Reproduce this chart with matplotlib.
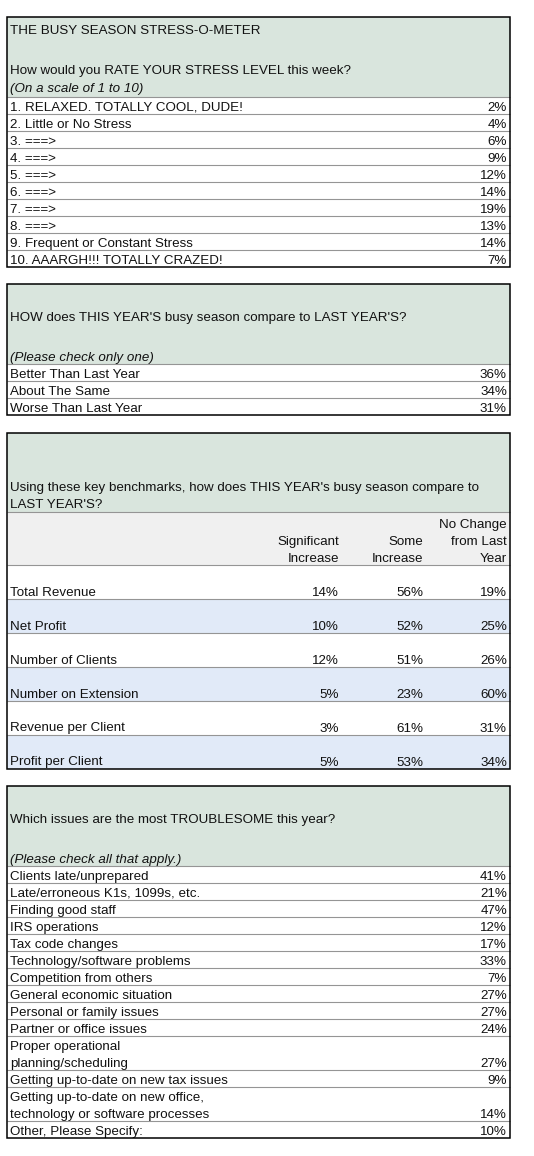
import matplotlib
matplotlib.use("Agg")
import matplotlib.pyplot as plt
from matplotlib.patches import Rectangle

# ---------------- data ----------------
stress_title = "THE BUSY SEASON STRESS-O-METER"
stress_question = "How would you RATE YOUR STRESS LEVEL this week?"
stress_note = "(On a scale of 1 to 10)"
stress_labels = ["1. RELAXED. TOTALLY COOL, DUDE!", "2. Little or No Stress", "3. ===>", "4. ===>",
                 "5. ===>", "6. ===>", "7. ===>", "8. ===>", "9. Frequent or Constant Stress",
                 "10. AAARGH!!! TOTALLY CRAZED!"]
stress_values = [2, 4, 6, 9, 12, 14, 19, 13, 14, 7]

compare_question = "HOW does THIS YEAR'S busy season compare to LAST YEAR'S?"
compare_note = "(Please check only one)"
compare_labels = ["Better Than Last Year", "About The Same", "Worse Than Last Year"]
compare_values = [36, 34, 31]

bench_question = ["Using these key benchmarks, how does THIS YEAR's busy season compare to",
                  "LAST YEAR'S?"]
bench_columns = ["Significant\nIncrease", "Some\nIncrease", "No Change\nfrom Last\nYear"]
bench_rows = ["Total Revenue", "Net Profit", "Number of Clients", "Number on Extension",
              "Revenue per Client", "Profit per Client"]
bench_significant = [14, 10, 12, 5, 3, 5]
bench_some = [56, 52, 51, 23, 61, 53]
bench_nochange = [19, 25, 26, 60, 31, 34]

issues_question = "Which issues are the most TROUBLESOME this year?"
issues_note = "(Please check all that apply.)"
issue_labels = ["Clients late/unprepared", "Late/erroneous K1s, 1099s, etc.", "Finding good staff",
                "IRS operations", "Tax code changes", "Technology/software problems",
                "Competition from others", "General economic situation", "Personal or family issues",
                "Partner or office issues", "Proper operational\nplanning/scheduling",
                "Getting up-to-date on new tax issues",
                "Getting up-to-date on new office,\ntechnology or software processes",
                "Other, Please Specify:"]
issue_values = [41, 21, 47, 12, 17, 33, 7, 27, 27, 24, 27, 9, 14, 10]

# ---------------- style ----------------
FONT = "Liberation Sans"
FS = 9.6
GREEN = "#D9E5DD"
GREY_BG = "#F0F0F0"
BLUE = "#E1EAF8"
GRID = "#959595"
L, R = 7, 510
TX, RX = 10, 507
ROW = 17
PX = 0.8

fig = plt.figure(figsize=(5.34, 11.56), dpi=100)
ax = fig.add_axes([0, 0, 1, 1])
ax.set_xlim(0, 534)
ax.set_ylim(1156, 0)
ax.axis("off")


def txt(x, y, s, ha="left", style="normal"):
    ax.text(x, y, s, ha=ha, va="baseline", fontsize=FS, family=FONT, style=style, color="#111111")


def rect(y0, y1, color):
    ax.add_patch(Rectangle((L, y0), R - L, y1 - y0, facecolor=color, edgecolor="none", zorder=0))


def hline(y, color=GRID):
    ax.plot([L, R], [y, y], color=color, lw=PX, zorder=2, solid_capstyle="butt")


def border(y0, y1):
    ax.add_patch(Rectangle((L, y0), R - L, y1 - y0, facecolor="none", edgecolor="#000000",
                           lw=1.1, zorder=3))


def simple_table(top, hdr_bottom, header_lines, labels, values):
    rect(top, hdr_bottom, GREEN)
    for s, yb, st in header_lines:
        txt(TX, yb, s, style=st)
    y = hdr_bottom
    for lab, v in zip(labels, values):
        lines = lab.split("\n")
        h = ROW * len(lines)
        hline(y)
        bottom = y + h
        for i, ln in enumerate(lines):
            txt(TX, bottom - 3 - ROW * (len(lines) - 1 - i), ln)
        txt(RX, bottom - 3, f"{v}%", ha="right")
        y = bottom
    border(top, y)


# Table 1
simple_table(17, 97,
             [(stress_title, 34, "normal"), (stress_question, 74, "normal"), (stress_note, 92, "italic")],
             stress_labels, stress_values)

# Table 2
simple_table(284, 364,
             [(compare_question, 321, "normal"), (compare_note, 361, "italic")],
             compare_labels, compare_values)

# Table 3
t3_top, t3_green, t3_hdr = 433, 512, 565
BROW = 34
rect(t3_top, t3_green, GREEN)
rect(t3_green, t3_hdr, GREY_BG)
txt(TX, 491.5, bench_question[0])
txt(TX, 508.3, bench_question[1])
col_x = [339, 423, RX]
for cx, head in zip(col_x, bench_columns):
    lines = head.split("\n")
    for i, ln in enumerate(lines):
        txt(cx, t3_hdr - 3.5 - 16.7 * (len(lines) - 1 - i), ln, ha="right")
hline(t3_green)
y = t3_hdr
for k, (lab, a, b, c) in enumerate(zip(bench_rows, bench_significant, bench_some, bench_nochange)):
    if k % 2 == 1:
        rect(y, y + BROW, BLUE)
    hline(y)
    yb = y + BROW - 3.5
    txt(TX, yb, lab)
    for cx, v in zip(col_x, (a, b, c)):
        txt(cx, yb, f"{v}%", ha="right")
    y += BROW
border(t3_top, y)

# Table 4
simple_table(786, 866,
             [(issues_question, 822.7, "normal"), (issues_note, 863, "italic")],
             issue_labels, issue_values)

fig.savefig("out.png", dpi=100, facecolor="white")
